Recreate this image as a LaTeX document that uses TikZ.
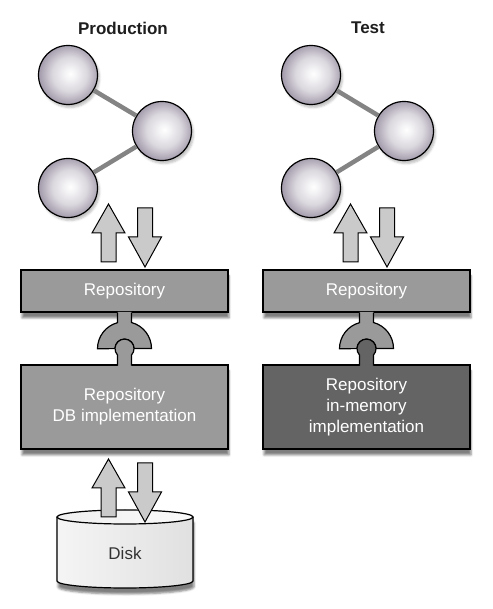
\documentclass[tikz,border=0pt]{standalone}
\usepackage{fontspec}
\setmainfont{Liberation Sans}
\usepackage{xcolor}
\usetikzlibrary{shadows.blur}
\definecolor{boxgray}{RGB}{154,154,154}
\definecolor{darkbox}{RGB}{100,100,100}
\definecolor{arrgray}{RGB}{202,202,202}
\definecolor{linkgray}{RGB}{132,132,132}
\definecolor{ballrim}{RGB}{166,158,174}
\definecolor{titlegray}{RGB}{30,30,30}
\pgfdeclareradialshading{ballshade}{\pgfpoint{2bp}{1bp}}{color(0bp)=(white); color(3bp)=(white!92!ballrim); color(15bp)=(white!58!ballrim); color(25bp)=(ballrim); color(50bp)=(ballrim)}
\newcommand{\bigfont}{\fontsize{17}{21}\selectfont}

\tikzset{
  title/.style={font=\bigfont\bfseries, text=titlegray},
  ball/.style={circle, draw, line width=1.2pt, minimum size=59pt, inner sep=0pt,
    shading=ballshade, blur shadow={shadow xshift=2pt, shadow yshift=-3pt, shadow opacity=25}},
  link/.style={draw=linkgray, line width=4.5pt},
  repobox/.style={rectangle, draw, line width=1.2pt, fill=boxgray, text=white,
    minimum width=207pt, minimum height=42pt, font=\bigfont,
    blur shadow={shadow xshift=1pt, shadow yshift=-6pt, shadow opacity=50}},
  implbox/.style={repobox, minimum height=84pt, align=center},
  blockarr/.style={draw, line width=1pt, fill=arrgray},
  uparr/.pic={\draw[blockarr] (-7.5,0) -- (-7.5,29) -- (-16.5,29) -- (0,58)
    -- (16.5,29) -- (7.5,29) -- (7.5,0) -- cycle;},
  downarr/.pic={\draw[blockarr] (-7.5,0) -- (-7.5,-29) -- (-16.5,-29) -- (0,-59)
    -- (16.5,-29) -- (7.5,-29) -- (7.5,0) -- cycle;},
  pics/plug/.style 2 args={code={
    % socket hanging below the repository
    \fill[#1] (-7,0.8) -- (-7,-9) -- (-7,-10.08) arc (105:180:27) -- (-9.5,-36)
      arc (180:0:9.5) -- (27,-36) arc (0:75:27) -- (7,0.8) -- cycle;
    \draw[line width=1.2pt] (-7,0) -- (-7,-10.08) arc (105:180:27) -- (-9.5,-36)
      arc (180:0:9.5) -- (27,-36) arc (0:75:27) -- (7,0);
    % ball on top of the implementation
    \fill[#2] (-7,-53.8) -- (-7,-42.42) arc (222.53:-42.53:9.5) -- (7,-53.8) -- cycle;
    \draw[line width=1.2pt] (-7,-53) -- (-7,-42.42) arc (222.53:-42.53:9.5) -- (7,-53);
  }},
}

\begin{document}
\begin{tikzpicture}[x=1pt,y=1pt]
\useasboundingbox (0,0) rectangle (492,609);

% production side
\node[title] (prod) at (123,581) {Production};
\node[ball] (p1) at (68,534) {};
\node[ball] (p2) at (162,478) {};
\node[ball] (p3) at (68,421) {};
\draw[link] (p1) -- (p2);
\draw[link] (p3) -- (p2);
\node[repobox] (repoP) at (124.5,318) {Repository};
\node[implbox] (implP) at (124.5,202) {Repository\\DB implementation};
\pic at (repoP.south) {plug={boxgray}{boxgray}};
\pic at (108.5,347) {uparr};
\pic at (145,401) {downarr};

% disk
\fill[left color=black!4, middle color=white!97!red, right color=black!12,
  blur shadow={shadow xshift=1pt, shadow yshift=-6pt, shadow opacity=50}]
  (57,92) -- (57,28) arc (180:360:68 and 7) -- (193,92) arc (0:180:68 and 7) -- cycle;
\draw[line width=1.2pt] (57,92) -- (57,28) arc (180:360:68 and 7) -- (193,92);
\draw[line width=1.2pt, left color=black!6, right color=black!2] (125,92) ellipse (68 and 7);
\node[font=\bigfont, text=black!80] (disk) at (125,56) {Disk};
\pic at (108.5,92) {uparr};
\pic at (145,146) {downarr};

% test side
\node[title] (test) at (368,581) {Test};
\node[ball] (t1) at (311,534) {};
\node[ball] (t2) at (404,478) {};
\node[ball] (t3) at (311,421) {};
\draw[link] (t1) -- (t2);
\draw[link] (t3) -- (t2);
\node[repobox] (repoT) at (366.5,318) {Repository};
\node[implbox, fill=darkbox] (implT) at (366.5,202) {Repository\\in-memory\\implementation};
\pic at (repoT.south) {plug={boxgray}{darkbox}};
\pic at (350.5,347) {uparr};
\pic at (387,401) {downarr};
\end{tikzpicture}
\end{document}
